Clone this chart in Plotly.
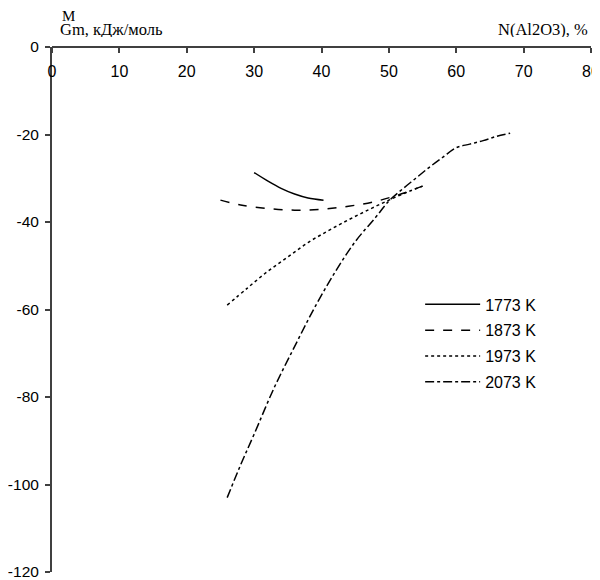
import plotly.graph_objects as go

x_1773 = [30, 32, 34, 36, 38, 40.3]
y_1773 = [-28.7, -30.6, -32.3, -33.6, -34.5, -35.0]

x_1873 = [25, 28, 32, 36, 40, 44, 48, 52, 55]
y_1873 = [-35.0, -36.1, -36.9, -37.3, -37.1, -36.4, -35.3, -33.5, -31.8]

x_1973 = [26, 29, 32, 35, 38, 41, 44, 47, 50, 53, 55]
y_1973 = [-59.0, -55.1, -51.3, -48.0, -44.7, -42.0, -39.5, -37.2, -35.0, -33.0, -31.8]

x_2073 = [26, 28, 30, 33, 36, 39, 42, 45, 48, 50, 52, 54, 56, 58, 60, 62, 64, 66, 68]
y_2073 = [-103, -95.5, -88.5, -77.8, -68.5, -59.5, -51.5, -44.5, -39, -35.2, -32.5, -30, -27.5, -25.2, -23, -22.2, -21.4, -20.4, -19.7]

series = [
    ("1773 K", x_1773, y_1773, "solid"),
    ("1873 K", x_1873, y_1873, "dash"),
    ("1973 K", x_1973, y_1973, "dot"),
    ("2073 K", x_2073, y_2073, "dashdot"),
]

x_ticks = [0, 10, 20, 30, 40, 50, 60, 70, 80]
y_ticks = [0, -20, -40, -60, -80, -100, -120]

fig = go.Figure()
for i, (name, xs, ys, dash) in enumerate(series):
    fig.add_trace(go.Scatter(
        x=xs, y=ys, name=name, mode="lines", legendgroup=str(i),
        line=dict(color="black", width=1.5, dash=dash, shape="spline"),
    ))

axis_color = "#404040"
sans = "Liberation Sans, Arial"
# page has an 8px body margin, so figure is 592x572 placed at (8, 8)
fig.update_layout(
    width=592, height=572,
    margin=dict(l=44, r=9, t=39, b=8, autoexpand=False),
    paper_bgcolor="white", plot_bgcolor="white",
    font=dict(family=sans, size=16, color="black"),
    showlegend=True,
    legend=dict(
        x=0.683, y=0.542, xanchor="left", yanchor="top",
        bgcolor="rgba(0,0,0,0)", tracegroupgap=2, itemwidth=55,
        font=dict(size=16, family=sans),
    ),
    xaxis=dict(
        range=[0, 80], tickvals=x_ticks, ticktext=[str(v) for v in x_ticks],
        anchor="free", position=1, side="bottom", automargin=False,
        showline=True, linecolor=axis_color, linewidth=2,
        ticks="outside", ticklen=5, tickwidth=2, tickcolor=axis_color,
        showgrid=False, zeroline=False, tickfont=dict(size=16, family=sans),
        ticklabeloverflow="allow", ticklabelstandoff=5,
    ),
    yaxis=dict(
        range=[-120, 0], tickvals=y_ticks, ticktext=[str(v) for v in y_ticks],
        automargin=False,
        showline=True, linecolor=axis_color, linewidth=2,
        ticks="outside", ticklen=5, tickwidth=2, tickcolor=axis_color,
        showgrid=False, zeroline=False, tickfont=dict(size=15.5, family=sans),
        ticklabeloverflow="allow", ticklabelstandoff=3,
    ),
)

serif = dict(family="Liberation Serif, Times New Roman", size=16.5, color="black")
fig.add_annotation(text="M", xref="paper", yref="paper", x=(68 - 52) / 539, y=1 + (47 - 16) / 525,
                   showarrow=False, font=dict(serif, size=15), xanchor="center", yanchor="middle",
                   height=12, borderpad=0)
fig.add_annotation(text="Gm, кДж/моль", xref="paper", yref="paper", x=(59 - 52) / 539, y=1 + (47 - 30) / 525,
                   showarrow=False, font=serif, xanchor="left", yanchor="middle",
                   height=15, borderpad=0)
fig.add_annotation(text="N(Al2O3), %", xref="paper", yref="paper", x=1 - (591 - 589) / 539, y=1 + (47 - 30) / 525,
                   showarrow=False, font=serif, xanchor="right", yanchor="middle",
                   height=15, borderpad=0)

fig.write_html("out.html")
